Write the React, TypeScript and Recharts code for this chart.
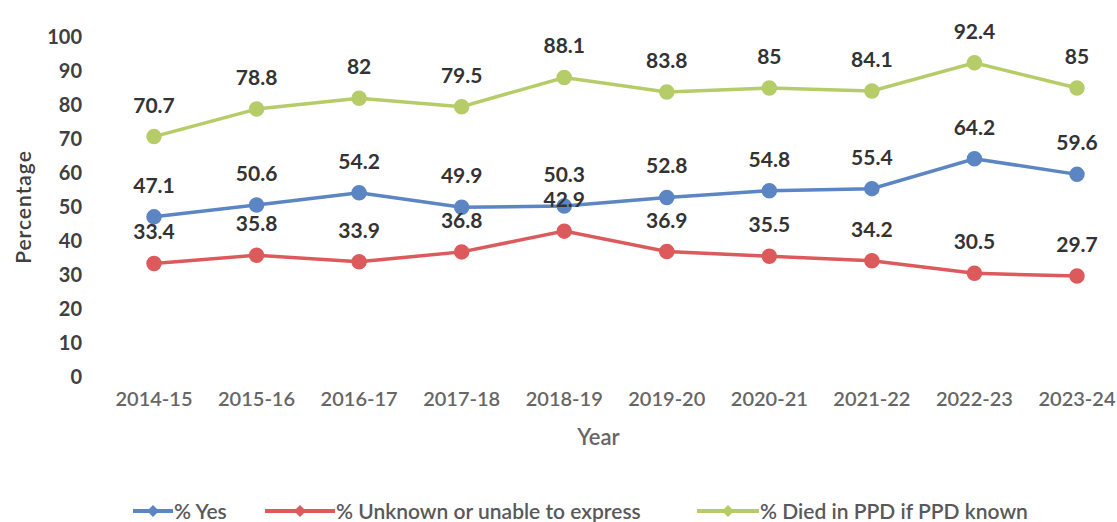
import React from 'react';
import { LineChart, Line, XAxis, YAxis, Legend, LabelList } from 'recharts';

const years = ['2014-15', '2015-16', '2016-17', '2017-18', '2018-19', '2019-20', '2020-21', '2021-22', '2022-23', '2023-24'];
const yesValues = [47.1, 50.6, 54.2, 49.9, 50.3, 52.8, 54.8, 55.4, 64.2, 59.6];
const unknownValues = [33.4, 35.8, 33.9, 36.8, 42.9, 36.9, 35.5, 34.2, 30.5, 29.7];
const diedValues = [70.7, 78.8, 82, 79.5, 88.1, 83.8, 85, 84.1, 92.4, 85];
const yTicks = [0, 10, 20, 30, 40, 50, 60, 70, 80, 90, 100];

const seriesNames = ['% Yes', '% Unknown or unable to express', '% Died in PPD if PPD known'];
const colors = ['#5b85c3', '#dc5a5b', '#b5cc69'];

const data = years.map((y, i) => ({ year: y, yes: yesValues[i], unknown: unknownValues[i], died: diedValues[i] }));

const FONT = 'Lato, "Open Sans", sans-serif';

const makeLabel = (color: string) => (props: any) => {
  const { x, y, value } = props;
  return (
    <text x={x} y={y - 24} textAnchor="middle" fontFamily={FONT} fontSize={21} fontWeight={700} fill={color}>
      {value}
    </text>
  );
};

const legendLefts = [113, 245, 677];
const iconWidths = [40, 70, 62];

const LegendContent = () => (
  <div style={{ position: 'relative', height: 22, fontFamily: FONT, fontSize: 21, color: '#595959', fontWeight: 600 }}>
    {seriesNames.map((n, i) => (
      <div key={n} style={{ position: 'absolute', left: legendLefts[i], top: -2, display: 'flex', alignItems: 'center' }}>
        <svg width={iconWidths[i]} height={14}>
          <line x1={0} y1={7} x2={iconWidths[i]} y2={7} stroke={colors[i]} strokeWidth={4} />
          <path d={`M${iconWidths[i] / 2} 1 L${iconWidths[i] / 2 + 6} 7 L${iconWidths[i] / 2} 13 L${iconWidths[i] / 2 - 6} 7 Z`} fill={colors[i]} />
        </svg>
        <span style={{ whiteSpace: 'nowrap', marginLeft: 1 }}>{n}</span>
      </div>
    ))}
  </div>
);

const PercentLabel = (props: any) => {
  const vb = props.viewBox || {};
  const cy = (vb.y || 0) + (vb.height || 0) / 2;
  return (
    <text x={22} y={cy} transform={`rotate(-90 22 ${cy})`} textAnchor="middle" dominantBaseline="central" fontFamily={FONT} fontSize={21} letterSpacing={1} fontWeight={600} fill="#404040">
      Percentage
    </text>
  );
};

export default function App() {
  return (
    <div style={{ position: 'absolute', left: 0, top: 0, background: '#fff' }}>
      <LineChart width={1117} height={522} data={data} margin={{ top: 37, right: 10, bottom: 0, left: 20 }}>
        <XAxis
          dataKey="year"
          axisLine={false}
          tickLine={false}
          tickMargin={9}
          padding={{ left: 64, right: 30 }}
          height={123}
          tick={{ fontFamily: FONT, fontSize: 20, fill: '#666666', fontWeight: 600 }}
          label={{ value: 'Year', position: 'insideTop', offset: 52, fontFamily: FONT, fontSize: 22, fill: '#666666', fontWeight: 600 }}
        />
        <YAxis
          domain={[0, 100]}
          ticks={yTicks}
          interval={0}
          axisLine={false}
          tickLine={false}
          width={70}
          tick={{ fontFamily: FONT, fontSize: 20, fill: '#404040', fontWeight: 700 }}
          label={{ content: PercentLabel }}
        />
        <Legend verticalAlign="bottom" height={22} content={<LegendContent />} />
        <Line dataKey="died" name={seriesNames[2]} stroke={colors[2]} strokeWidth={3.5} dot={{ r: 6, fill: colors[2], stroke: colors[2] }} isAnimationActive={false}>
          <LabelList dataKey="died" content={makeLabel('#333333')} />
        </Line>
        <Line dataKey="yes" name={seriesNames[0]} stroke={colors[0]} strokeWidth={3.5} dot={{ r: 6, fill: colors[0], stroke: colors[0] }} isAnimationActive={false}>
          <LabelList dataKey="yes" content={makeLabel('#333333')} />
        </Line>
        <Line dataKey="unknown" name={seriesNames[1]} stroke={colors[1]} strokeWidth={3.5} dot={{ r: 6, fill: colors[1], stroke: colors[1] }} isAnimationActive={false}>
          <LabelList dataKey="unknown" content={makeLabel('#333333')} />
        </Line>
      </LineChart>
    </div>
  );
}
